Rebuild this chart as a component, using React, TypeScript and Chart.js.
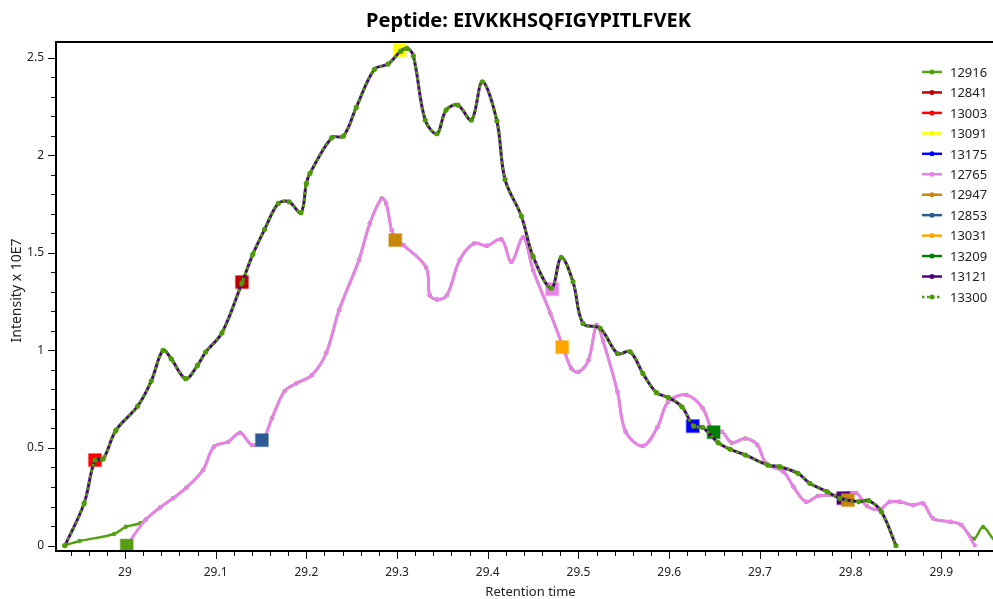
import { useEffect, useRef } from "react";
import { Chart, registerables } from "chart.js";

Chart.register(...registerables);

const FONT = '"Noto Sans", "Open Sans", sans-serif';

// Main elution trace (scans 13121 / 13300 share it): retention time and intensity (x 10E7)
const mainTimes = [
  28.934, 28.955, 28.967, 28.976, 28.99, 29.014, 29.029, 29.042, 29.051, 29.067,
  29.08, 29.089, 29.107, 29.129, 29.141, 29.154, 29.169, 29.181, 29.194, 29.2,
  29.204, 29.228, 29.241, 29.255, 29.275, 29.29, 29.304, 29.311, 29.318, 29.331,
  29.344, 29.354, 29.367, 29.382, 29.394, 29.41, 29.419, 29.437, 29.45, 29.47,
  29.481, 29.494, 29.505, 29.524, 29.543, 29.557, 29.571, 29.586, 29.599, 29.614,
  29.627, 29.637, 29.654, 29.667, 29.684, 29.709, 29.722, 29.742, 29.755, 29.774,
  29.788, 29.809, 29.82, 29.834, 29.85,
];
const mainIntensity = [
  0, 0.216, 0.438, 0.443, 0.59, 0.714, 0.843, 1.0, 0.957, 0.855,
  0.923, 0.991, 1.09, 1.346, 1.492, 1.62, 1.753, 1.761, 1.705, 1.855,
  1.907, 2.09, 2.098, 2.245, 2.44, 2.467, 2.533, 2.547, 2.508, 2.18,
  2.11, 2.231, 2.257, 2.18, 2.376, 2.176, 1.876, 1.688, 1.48, 1.318,
  1.476, 1.351, 1.138, 1.113, 0.984, 0.993, 0.882, 0.783, 0.759, 0.711,
  0.612, 0.605, 0.527, 0.494, 0.464, 0.412, 0.404, 0.37, 0.319, 0.276,
  0.242, 0.225, 0.23, 0.173, 0,
];

// Scan 12765 trace
const violetTimes = [
  29.002, 29.023, 29.039, 29.053, 29.068, 29.086, 29.098, 29.114, 29.127, 29.14,
  29.152, 29.162, 29.176, 29.189, 29.206, 29.222, 29.236, 29.258, 29.27, 29.283,
  29.288, 29.294, 29.299, 29.307, 29.332, 29.336, 29.344, 29.355, 29.369, 29.385,
  29.399, 29.415, 29.426, 29.439, 29.45, 29.469, 29.483, 29.492, 29.5, 29.511,
  29.52, 29.527, 29.543, 29.552, 29.571, 29.587, 29.599, 29.619, 29.637, 29.649,
  29.658, 29.669, 29.684, 29.697, 29.707, 29.726, 29.737, 29.751, 29.764, 29.785,
  29.806, 29.818, 29.832, 29.843, 29.854, 29.869, 29.88, 29.891, 29.91, 29.922,
  29.937,
];
const violetIntensity = [
  0, 0.134, 0.196, 0.242, 0.298, 0.387, 0.506, 0.532, 0.578, 0.515,
  0.54, 0.652, 0.791, 0.831, 0.873, 0.988, 1.206, 1.463, 1.651, 1.779,
  1.753, 1.616, 1.565, 1.539, 1.425, 1.283, 1.261, 1.283, 1.463, 1.548,
  1.536, 1.569, 1.454, 1.579, 1.411, 1.19, 1.018, 0.908, 0.89, 0.95,
  1.13, 1.05, 0.788, 0.583, 0.51, 0.606, 0.737, 0.771, 0.703, 0.575,
  0.583, 0.527, 0.549, 0.517, 0.421, 0.378, 0.301, 0.224, 0.254, 0.259,
  0.27, 0.202, 0.185, 0.224, 0.224, 0.207, 0.216, 0.139, 0.122, 0.105,
  0,
];

// Scan 12916: its own lead-in and tail, otherwise it runs along the 12765 trace
const greenLeadTimes = [28.933, 28.95, 28.988, 29.001, 29.017];
const greenLeadIntensity = [0, 0.023, 0.059, 0.096, 0.114];
const greenTailTimes = [29.936, 29.946, 29.96, 29.975];
const greenTailIntensity = [0.035, 0.095, 0.02, 0];

// Legend entries (scan numbers) and their colours
const scanIds = ["12916", "12841", "13003", "13091", "13175", "12765", "12947", "12853", "13031", "13209", "13121", "13300"];
const scanColors = ["#55a012", "#c00000", "#ff0000", "#ffff00", "#0000ff", "#ea80ea", "#c8860b", "#2e5a94", "#ffa500", "#008000", "#4b0082", "#4e9a06"];

// Identification markers (square) per scan: retention time and intensity
const markerScans = ["12916", "12841", "13003", "13091", "12853", "12947", "12765", "13031", "13175", "13209", "13121", "12947"];
const markerTimes = [29.002, 29.129, 28.967, 29.303, 29.151, 29.298, 29.471, 29.482, 29.626, 29.649, 29.792, 29.797];
const markerIntensity = [0, 1.35, 0.438, 2.538, 0.54, 1.565, 1.314, 1.017, 0.612, 0.581, 0.243, 0.233];

// Axis ranges and labelled ticks
const xRange = [28.924, 29.957];
const yRange = [-0.028, 2.58];
const xTicks = [29, 29.1, 29.2, 29.3, 29.4, 29.5, 29.6, 29.7, 29.8, 29.9];
const yTicks = [0, 0.5, 1, 1.5, 2, 2.5];

const TITLE = "Peptide: EIVKKHSQFIGYPITLFVEK";
const X_TITLE = "Retention time";
const Y_TITLE = "Intensity x 10E7";

const zip = (xs: number[], ys: number[]) => xs.map((x, i) => ({ x, y: ys[i] }));
const colorOf = (id: string) => scanColors[scanIds.indexOf(id)];

const framePlugin = {
  id: "frame",
  afterDraw(chart: any) {
    const { ctx, chartArea: a, scales } = chart;
    const xs = scales.x;
    const ys = scales.y;
    ctx.save();

    // plot border
    ctx.strokeStyle = "#000";
    ctx.lineWidth = 2;
    ctx.beginPath();
    ctx.moveTo(a.right + 2, a.top);
    ctx.lineTo(a.left, a.top);
    ctx.lineTo(a.left, a.bottom);
    ctx.lineTo(a.right + 2, a.bottom);
    ctx.stroke();

    // x ticks (minor every 0.02, major every 0.1)
    ctx.lineWidth = 1;
    ctx.strokeStyle = "#111";
    const kx0 = Math.ceil(xs.min / 0.02);
    const kx1 = Math.floor(xs.max / 0.02);
    for (let k = kx0; k <= kx1; k++) {
      const px = Math.round(xs.getPixelForValue(k * 0.02)) + 0.5;
      const len = k % 5 === 0 ? 7 : 4;
      ctx.beginPath();
      ctx.moveTo(px, a.bottom + 1);
      ctx.lineTo(px, a.bottom + 1 + len);
      ctx.stroke();
    }
    // y ticks (minor every 0.1, major every 0.5)
    const ky0 = Math.ceil(ys.min / 0.1 - 1e-9);
    const ky1 = Math.floor(ys.max / 0.1 + 1e-9);
    for (let k = ky0; k <= ky1; k++) {
      const py = Math.round(ys.getPixelForValue(k * 0.1)) + 0.5;
      const len = k % 5 === 0 ? 7 : 4;
      ctx.beginPath();
      ctx.moveTo(a.left - 1, py);
      ctx.lineTo(a.left - 1 - len, py);
      ctx.stroke();
    }

    // tick labels
    ctx.fillStyle = "#222";
    ctx.font = `12px ${FONT}`;
    ctx.textAlign = "center";
    ctx.textBaseline = "middle";
    xTicks.forEach((v) => {
      ctx.fillText(String(v), xs.getPixelForValue(v), a.bottom + 22);
    });
    ctx.textAlign = "right";
    yTicks.forEach((v) => {
      ctx.fillText(String(v), a.left - 12, ys.getPixelForValue(v));
    });

    // axis titles
    ctx.textAlign = "center";
    ctx.font = `13px ${FONT}`;
    ctx.fillText(X_TITLE, (a.left + a.right) / 2 + 6, a.bottom + 41);
    ctx.save();
    ctx.font = `14px ${FONT}`;
    ctx.translate(17, (a.top + a.bottom) / 2 - 6);
    ctx.rotate(-Math.PI / 2);
    ctx.fillText(Y_TITLE, 0, 0);
    ctx.restore();

    // chart title
    ctx.font = `bold 20px ${FONT}`;
    ctx.fillStyle = "#000";
    ctx.fillText(TITLE, (a.left + a.right) / 2 + 4, 21);

    // legend
    const lx = 922;
    const ly = 72;
    const step = 20.45;
    ctx.font = `13px ${FONT}`;
    ctx.textAlign = "left";
    scanIds.forEach((id, i) => {
      const y = ly + i * step;
      const c = scanColors[i];
      ctx.strokeStyle = c;
      ctx.fillStyle = c;
      ctx.lineWidth = 2.5;
      if (id === "13300") ctx.setLineDash([2.5, 2.5]);
      ctx.beginPath();
      ctx.moveTo(lx, y);
      ctx.lineTo(lx + 20, y);
      ctx.stroke();
      ctx.setLineDash([]);
      ctx.beginPath();
      ctx.arc(lx + 10, y, 2.5, 0, Math.PI * 2);
      ctx.fill();
      ctx.fillStyle = "#222";
      ctx.fillText(id, lx + 28, y + 1);
    });

    ctx.restore();
  },
};

export default function App() {
  const canvasRef = useRef<HTMLCanvasElement | null>(null);

  useEffect(() => {
    const canvas = canvasRef.current;
    if (!canvas) return;

    const violet = colorOf("12765");
    const green = colorOf("12916");
    const purple = colorOf("13121");
    const dotted = colorOf("13300");
    const markerColors = markerScans.map(colorOf);

    const chart = new Chart(canvas, {
      type: "line",
      data: {
        datasets: [
          {
            label: "13300",
            data: zip(mainTimes, mainIntensity),
            borderColor: dotted,
            backgroundColor: dotted,
            borderWidth: 3,
            borderDash: [3, 3],
            pointRadius: 2.6,
            pointBorderWidth: 0,
            pointBackgroundColor: dotted,
            tension: 0.35,
            order: 0,
          },
          {
            label: "13121",
            data: zip(mainTimes, mainIntensity),
            borderColor: purple,
            backgroundColor: purple,
            borderWidth: 3,
            pointRadius: 0,
            tension: 0.35,
            order: 1,
          },
          {
            label: "markers",
            data: zip(markerTimes, markerIntensity),
            showLine: false,
            pointStyle: "rect",
            pointRadius: 9,
            pointBorderWidth: 1.5,
            pointBackgroundColor: markerColors,
            pointBorderColor: markerColors.map((c) => c + "66"),
            order: 2,
          },
          {
            label: "12765",
            data: zip(violetTimes, violetIntensity),
            borderColor: violet,
            backgroundColor: violet,
            borderWidth: 3,
            pointRadius: 2,
            pointBorderWidth: 0,
            pointBackgroundColor: violet,
            tension: 0.35,
            order: 3,
          },
          {
            label: "12916",
            data: [
              ...zip(greenLeadTimes, greenLeadIntensity),
              ...zip(violetTimes, violetIntensity).filter((p) => p.x > 29.02 && p.x < 29.93),
              ...zip(greenTailTimes, greenTailIntensity),
            ],
            borderColor: green,
            backgroundColor: green,
            borderWidth: 2.5,
            pointRadius: 2.2,
            pointBorderWidth: 0,
            pointBackgroundColor: green,
            tension: 0.35,
            order: 4,
          },
        ],
      },
      options: {
        responsive: false,
        animation: false,
        events: [],
        layout: { autoPadding: false, padding: { left: 56, right: 0, top: 42, bottom: 48 } },
        scales: {
          x: { type: "linear", min: xRange[0], max: xRange[1], display: false },
          y: { type: "linear", min: yRange[0], max: yRange[1], display: false },
        },
        plugins: {
          legend: { display: false },
          title: { display: false },
          tooltip: { enabled: false },
        },
      },
      plugins: [framePlugin],
    });

    return () => chart.destroy();
  }, []);

  return (
    <div style={{ position: "absolute", left: 0, top: 0, width: 993, height: 599, background: "#fff" }}>
      <canvas ref={canvasRef} width={993} height={599} />
    </div>
  );
}
